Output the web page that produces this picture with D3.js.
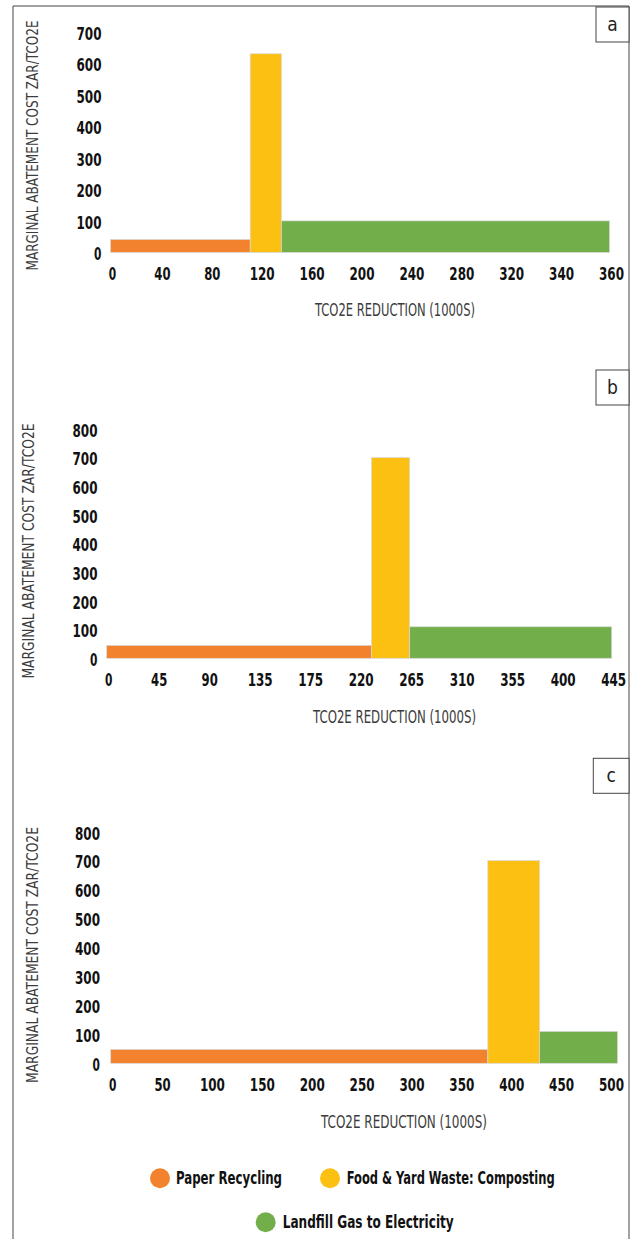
<!DOCTYPE html>
<html><head><meta charset="utf-8">
<script src="https://cdn.jsdelivr.net/npm/d3@7"></script>
<style>
html,body{margin:0;padding:0;background:#fff;}
svg{display:block;}
.tick text{font-family:"Liberation Sans Narrow","DejaVu Sans Condensed","Arial Narrow",sans-serif;font-weight:bold;font-size:18px;fill:#111;}
.title{font-family:"Liberation Sans Narrow","DejaVu Sans Condensed","Arial Narrow",sans-serif;font-size:15px;fill:#3c3c3c;}
.legend text{font-family:"Liberation Sans Narrow","DejaVu Sans Condensed","Arial Narrow",sans-serif;font-weight:bold;font-size:17px;fill:#111;}
.lab{font-family:"Liberation Sans Narrow","DejaVu Sans Condensed","Arial Narrow",sans-serif;font-size:19px;fill:#222;}
</style></head><body><svg id="chart" width="634" height="1239"></svg>
<script>
// ---- data ----
const categories = ["Paper Recycling", "Food & Yard Waste: Composting", "Landfill Gas to Electricity"];
const colors = ["#F3822F", "#FBC012", "#72AF4A"];
const panelLabels = ["a", "b", "c"];
const xTickLabelsA = [0, 40, 80, 120, 160, 200, 240, 280, 320, 340, 360];
const xTickLabelsB = [0, 45, 90, 135, 175, 220, 265, 310, 355, 400, 445];
const xTickLabelsC = [0, 50, 100, 150, 200, 250, 300, 350, 400, 450, 500];
const yTicksA = [0, 100, 200, 300, 400, 500, 600, 700];
const yTicksB = [0, 100, 200, 300, 400, 500, 600, 700, 800];
const yTicksC = [0, 100, 200, 300, 400, 500, 600, 700, 800];
// tCO2e reduction (1000s) per measure, in order
const reductionA = [112, 25, 223];
const reductionB = [231, 34, 180];
const reductionC = [378, 52, 78];
// marginal abatement cost ZAR/tCO2e per measure
const costA = [41, 630, 100];
const costB = [45, 700, 110];
const costC = [48, 700, 110];
const xAxisTitle = "TCO2E REDUCTION (1000S)";
const yAxisTitle = "MARGINAL ABATEMENT COST ZAR/TCO2E";

// ---- layout ----
const svg = d3.select("#chart");
svg.append("rect").attr("width", 634).attr("height", 1239).attr("fill", "#fff");

const panels = [
  {xTicks: xTickLabelsA, yTicks: yTicksA, red: reductionA, cost: costA, label: panelLabels[0],
   x0: 110.5, x1: 609.5, y0: 252.4, yTop: 31.7, yLabX: 101.5,
   yt: {x: 33, y: 145.5, len: 250}, xt: {x: 395, y: 310, len: 160},
   box: {x: 596, y: 7, w: 33, h: 35}},
  {xTicks: xTickLabelsB, yTicks: yTicksB, red: reductionB, cost: costB, label: panelLabels[1],
   x0: 106.7, x1: 611.7, y0: 658.3, yTop: 429, yLabX: 97.5,
   yt: {x: 29, y: 551, len: 255}, xt: {x: 394.5, y: 716.7, len: 163},
   box: {x: 596, y: 370, w: 33, h: 35}},
  {xTicks: xTickLabelsC, yTicks: yTicksC, red: reductionC, cost: costC, label: panelLabels[2],
   x0: 110.7, x1: 609.5, y0: 1063.3, yTop: 831.7, yLabX: 100,
   yt: {x: 33, y: 955, len: 256}, xt: {x: 404, y: 1121.7, len: 166},
   box: {x: 593.3, y: 758.3, w: 35.7, h: 35}}
];

// frame
svg.append("path").attr("d", "M13,1239V6H629V1239")
  .attr("stroke", "#444").attr("stroke-width", 1).attr("fill", "none");

const tickLen = d => 8.8 * String(d).length - 1.4;

panels.forEach(p => {
  const n = p.xTicks.length;
  const x = d3.scaleLinear()
    .domain(p.xTicks)
    .range(p.xTicks.map((d, i) => p.x0 + i * (p.x1 - p.x0) / (n - 1)));
  const y = d3.scaleLinear().domain([0, d3.max(p.yTicks)]).range([p.y0, p.yTop]);

  const ends = Array.from(d3.cumsum(p.red));
  const bars = p.red.map((r, i) => ({start: ends[i] - r, end: ends[i], cost: p.cost[i], i}));

  svg.append("g").selectAll("rect").data(bars).join("rect")
    .attr("x", d => x(d.start))
    .attr("width", d => x(d.end) - x(d.start))
    .attr("y", d => y(d.cost))
    .attr("height", d => y(0) - y(d.cost))
    .attr("fill", d => colors[d.i])
    .attr("stroke", "#d8d8d8").attr("stroke-width", 0.7);

  const gx = svg.append("g").attr("transform", `translate(1.5,${p.y0})`)
    .call(d3.axisBottom(x).tickValues(p.xTicks).tickSize(0).tickPadding(0));
  gx.select(".domain").remove();
  gx.selectAll("text").attr("y", 21.5).attr("dy", "0.35em")
    .attr("textLength", tickLen).attr("lengthAdjust", "spacingAndGlyphs");

  const gy = svg.append("g").attr("transform", `translate(${p.yLabX},1)`)
    .call(d3.axisLeft(y).tickValues(p.yTicks).tickSize(0).tickPadding(0));
  gy.select(".domain").remove();
  gy.selectAll("text").attr("dy", "0.35em")
    .attr("textLength", tickLen).attr("lengthAdjust", "spacingAndGlyphs");

  svg.append("text").attr("class", "title")
    .attr("transform", `translate(${p.yt.x},${p.yt.y}) rotate(-90)`)
    .attr("text-anchor", "middle").attr("dy", "0.35em")
    .attr("textLength", p.yt.len).attr("lengthAdjust", "spacingAndGlyphs")
    .text(yAxisTitle);

  svg.append("text").attr("class", "title")
    .attr("x", p.xt.x).attr("y", p.xt.y)
    .attr("text-anchor", "middle").attr("dy", "0.35em")
    .attr("textLength", p.xt.len).attr("lengthAdjust", "spacingAndGlyphs")
    .style("font-size", "17px")
    .text(xAxisTitle);

  svg.append("rect").attr("x", p.box.x).attr("y", p.box.y)
    .attr("width", p.box.w).attr("height", p.box.h)
    .attr("fill", "#fff").attr("stroke", "#444").attr("stroke-width", 1);
  svg.append("text").attr("class", "lab")
    .attr("x", p.box.x + p.box.w / 2).attr("y", p.box.y + p.box.h / 2)
    .attr("text-anchor", "middle").attr("dy", "0.32em")
    .text(p.label);
});

// legend
const legendPos = [
  {cx: 160, cy: 1178.3, tx: 176, len: 106},
  {cx: 330, cy: 1178.3, tx: 346.7, len: 208},
  {cx: 265.7, cy: 1222.3, tx: 282.7, len: 171}
];
const lg = svg.append("g").attr("class", "legend");
const items = lg.selectAll("g").data(categories).join("g");
items.append("circle")
  .attr("cx", (d, i) => legendPos[i].cx).attr("cy", (d, i) => legendPos[i].cy)
  .attr("r", 10).attr("fill", (d, i) => colors[i]);
items.append("text")
  .attr("x", (d, i) => legendPos[i].tx).attr("y", (d, i) => legendPos[i].cy)
  .attr("dy", "0.35em")
  .attr("textLength", (d, i) => legendPos[i].len).attr("lengthAdjust", "spacingAndGlyphs")
  .text(d => d);
</script></body></html>
